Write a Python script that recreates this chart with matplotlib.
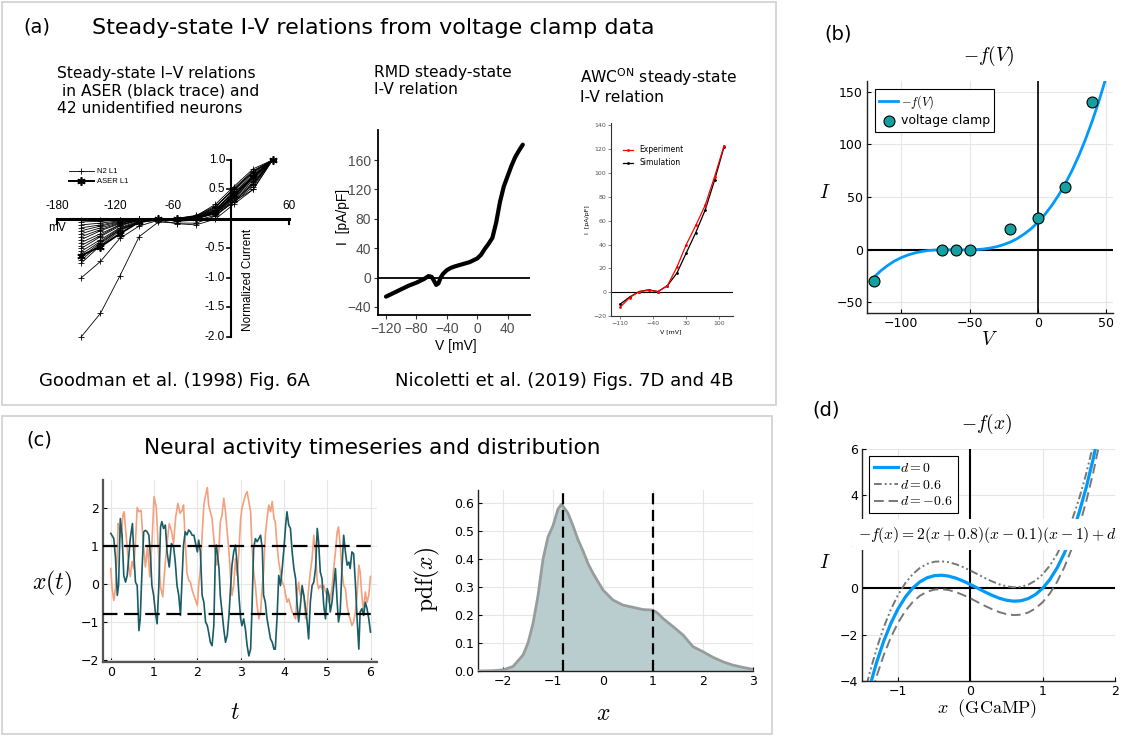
import numpy as np
import matplotlib
matplotlib.use('Agg')
import matplotlib.pyplot as plt
from matplotlib.patches import Rectangle

plt.rcParams['mathtext.fontset'] = 'cm'
plt.rcParams['font.family'] = ['DejaVu Sans']
plt.rcParams['axes.unicode_minus'] = True

# ---------------- data ----------------
# (a) Goodman et al. 1998 Fig 6A (normalized current)
goodman_V = [-155, -135, -115, -95, -75, -56, -36, -16, 3, 23, 43]
goodman_traces = [
    [-2.0, -1.6, -0.97, -0.30, -0.05, -0.07, -0.07, 0.05, 0.30, 0.50, 1.0],
    [-1.0, -0.72, -0.33, -0.12, -0.02, -0.02, 0.00, 0.10, 0.35, 0.70, 1.0],
    [-0.75, -0.45, -0.20, -0.05, 0.00, -0.02, 0.00, 0.10, 0.30, 0.60, 1.0],
    [-0.70, -0.42, -0.18, -0.04, 0.00, 0.00, 0.02, 0.15, 0.45, 0.75, 1.0],
    [-0.65, -0.40, -0.18, -0.06, -0.02, -0.08, -0.10, 0.00, 0.25, 0.50, 1.0],
    [-0.55, -0.35, -0.15, -0.03, 0.00, 0.00, 0.03, 0.20, 0.50, 0.80, 1.0],
    [-0.50, -0.30, -0.12, -0.02, 0.00, 0.01, 0.05, 0.25, 0.55, 0.85, 1.0],
    [-0.45, -0.28, -0.10, -0.02, 0.00, 0.00, 0.04, 0.18, 0.42, 0.70, 1.0],
    [-0.40, -0.25, -0.10, -0.02, 0.00, 0.00, 0.02, 0.12, 0.38, 0.65, 1.0],
    [-0.35, -0.20, -0.08, -0.01, 0.00, 0.00, 0.03, 0.15, 0.48, 0.78, 1.0],
    [-0.30, -0.18, -0.07, -0.01, 0.00, 0.01, 0.05, 0.20, 0.52, 0.82, 1.0],
    [-0.25, -0.15, -0.06, -0.01, 0.00, 0.00, 0.02, 0.10, 0.33, 0.60, 1.0],
    [-0.20, -0.12, -0.05, 0.00, 0.00, 0.00, 0.04, 0.16, 0.44, 0.72, 1.0],
    [-0.15, -0.10, -0.04, 0.00, 0.00, 0.00, 0.03, 0.14, 0.40, 0.68, 1.0],
    [-0.10, -0.07, -0.03, 0.00, 0.00, 0.01, 0.06, 0.22, 0.50, 0.80, 1.0],
    [-0.05, -0.04, -0.02, 0.00, 0.00, 0.00, 0.02, 0.08, 0.28, 0.55, 1.0],
    [-0.02, -0.02, -0.01, 0.00, 0.00, 0.00, 0.04, 0.12, 0.36, 0.62, 1.0],
    [-0.60, -0.38, -0.16, -0.05, 0.00, -0.04, -0.02, 0.06, 0.30, 0.58, 1.0],
]
aser_trace = [-0.62, -0.47, -0.25, -0.05, 0.00, 0.00, 0.02, 0.12, 0.40, 0.72, 1.0]
goodman_xticks = [-180, -120, -60, 60]
goodman_yticks = [1.0, 0.5, -0.5, -1.0, -1.5, -2.0]

# (a) RMD steady-state I-V
rmd_V = [-120, -110, -100, -90, -80, -70, -64, -60, -57, -54, -51, -48, -45, -40, -35, -30,
         -20, -10, 0, 5, 10, 15, 20, 25, 30, 35, 40, 45, 50, 55, 60]
rmd_I = [-26, -21, -16, -11, -7, -2, 2, 1, -4, -10, -8, 0, 5, 10, 13, 15,
         18, 21, 26, 31, 39, 46, 54, 75, 103, 124, 138, 152, 164, 173, 181]
rmd_xticks = [-120, -80, -40, 0, 40]
rmd_yticks = [-40, 0, 40, 80, 120, 160]

# (a) AWC-ON steady-state I-V
awc_V = [-110, -90, -70, -50, -30, -10, 10, 30, 50, 70, 90, 110]
awc_exp = [-12.5, -4.5, 0.5, 1.5, 0.5, 5.5, 21, 40, 56, 73, 97, 123]
awc_sim = [-10, -4, 0.5, 2, 0.5, 5.5, 16, 33, 50, 69, 94, 122]
awc_xticks = [-110, -40, 30, 100]
awc_yticks = [-20, 0, 20, 40, 60, 80, 100, 120, 140]

# (b) -f(V) and voltage clamp points
b_V = [-120, -115, -110, -105, -100, -95, -90, -85, -80, -75, -70, -65, -60, -55, -50, -45,
       -40, -35, -30, -25, -20, -15, -10, -5, 0, 5, 10, 15, 20, 25, 30, 35, 40, 45, 50]
b_I = [-26.0, -19.9, -14.9, -10.7, -7.4, -4.9, -3.0, -1.6, -0.7, -0.2, 0.0, 0.05, 0.0, -0.05,
       0.0, 0.2, 0.7, 1.6, 3.0, 4.9, 7.4, 10.7, 14.9, 19.9, 26.0, 33.2, 41.6, 51.3, 62.4,
       75.0, 89.1, 105.0, 122.6, 142.0, 163.4]
vc_V = [-120, -70, -60, -50, -20, 0, 20, 40]
vc_I = [-30, 0, 0, 0, 20, 30, 60, 140]
b_xticks = [-100, -50, 0, 50]
b_yticks = [-50, 0, 50, 100, 150]

# (c) timeseries
t_teal = [0.00, 0.07, 0.11, 0.15, 0.18, 0.22, 0.26, 0.30, 0.34, 0.38, 0.45, 0.50, 0.53, 0.57,
          0.61, 0.65, 0.68, 0.72, 0.76, 0.80, 0.84, 0.88, 0.92, 0.95, 0.99, 1.03, 1.07, 1.11,
          1.15, 1.18, 1.22, 1.26, 1.30, 1.35, 1.40, 1.45, 1.49, 1.53, 1.57, 1.61, 1.65, 1.68,
          1.72, 1.76, 1.80, 1.84, 1.88, 1.92, 1.96, 2.00, 2.03, 2.07, 2.11, 2.15, 2.19, 2.23,
          2.26, 2.30, 2.34, 2.38, 2.42, 2.44, 2.50, 2.53, 2.57, 2.61, 2.65, 2.69, 2.73, 2.77,
          2.80, 2.84, 2.88, 2.92, 2.96, 3.00, 3.03, 3.07, 3.11, 3.15, 3.19, 3.23, 3.26, 3.30,
          3.34, 3.38, 3.42, 3.46, 3.50, 3.53, 3.57, 3.61, 3.65, 3.69, 3.73, 3.77, 3.80, 3.84,
          3.88, 3.92, 3.96, 4.00, 4.04, 4.07, 4.11, 4.15, 4.19, 4.23, 4.27, 4.30, 4.34, 4.38,
          4.42, 4.46, 4.50, 4.53, 4.57, 4.61, 4.65, 4.69, 4.73, 4.77, 4.80, 4.84, 4.88, 4.92,
          4.96, 5.00, 5.04, 5.07, 5.11, 5.15, 5.19, 5.23, 5.26, 5.30, 5.34, 5.38, 5.42, 5.46,
          5.50, 5.53, 5.57, 5.61, 5.65, 5.69, 5.73, 5.76, 5.80, 5.84, 5.88, 5.92, 5.96, 6.00]
x_teal = [1.34, 1.20, 0.67, -0.30, -0.03, 1.73, 1.30, 0.23, 0.05, 0.23, 1.20, 1.60, 0.85, 0.05,
          -0.04, -1.23, -0.92, 0.32, 1.38, 1.42, 1.38, 1.29, 0.67, -0.04, -0.30, -0.74, -1.05, -0.04,
          1.51, 1.65, 1.47, 1.56, 0.85, 0.45, 1.07, 1.00, 0.58, -0.04, -0.30, -0.83, 0.23, 1.03,
          1.38, 1.30, 1.43, 1.38, 1.29, 1.29, 1.07, 0.85, 1.16, 0.85, -0.30, -0.48, -1.00, -1.10,
          -1.27, -1.54, -1.63, -1.10, 0.94, 1.03, 0.41, -0.30, -0.74, -1.19, -1.54, -1.36, -0.83, -0.04,
          0.50, 0.85, 1.03, 0.50, -0.30, -0.92, -1.10, -0.92, -1.19, -1.63, -1.90, -1.72, -0.74, 0.94,
          1.20, 1.12, 1.20, 1.29, 0.94, -0.30, -0.48, -0.92, -1.19, -1.45, -1.54, -1.72, -1.72, -0.92,
          0.23, -0.04, 0.41, 0.94, 1.56, 1.91, 1.56, 1.47, 0.85, 0.41, 0.14, -0.48, -1.00, -0.57,
          -0.04, -0.30, -0.65, -0.92, -1.45, -0.48, -0.04, 0.05, 0.41, 1.47, 1.12, 0.32, 0.14, -0.57,
          -0.92, -0.12, -0.30, -0.74, -0.48, -0.04, 0.41, -0.48, -1.00, -0.74, 0.41, 1.29, 0.85, 0.50,
          0.58, 0.41, 0.85, 0.80, 0.05, -0.92, -1.72, -0.74, -0.65, -0.83, -0.48, -0.65, -0.92, -1.27]
t_orange = [0.00, 0.03, 0.07, 0.11, 0.15, 0.17, 0.20, 0.24, 0.28, 0.31, 0.34, 0.38, 0.42, 0.45,
            0.49, 0.53, 0.57, 0.61, 0.65, 0.70, 0.75, 0.80, 0.85, 0.90, 0.95, 1.00, 1.05, 1.10,
            1.15, 1.20, 1.25, 1.30, 1.35, 1.40, 1.45, 1.50, 1.55, 1.60, 1.65, 1.68, 1.72, 1.76,
            1.80, 1.84, 1.88, 1.92, 1.96, 2.00, 2.03, 2.07, 2.11, 2.15, 2.19, 2.23, 2.26, 2.30,
            2.34, 2.38, 2.42, 2.45, 2.50, 2.53, 2.57, 2.61, 2.65, 2.69, 2.73, 2.77, 2.80, 2.84,
            2.88, 2.92, 2.96, 3.00, 3.03, 3.07, 3.11, 3.15, 3.19, 3.23, 3.26, 3.30, 3.34, 3.38,
            3.42, 3.46, 3.50, 3.53, 3.57, 3.61, 3.65, 3.69, 3.73, 3.77, 3.80, 3.84, 3.88, 3.92,
            3.96, 4.00, 4.04, 4.07, 4.11, 4.15, 4.19, 4.23, 4.27, 4.30, 4.34, 4.38, 4.42, 4.46,
            4.50, 4.53, 4.57, 4.61, 4.65, 4.69, 4.73, 4.77, 4.80, 4.84, 4.88, 4.92, 4.96, 5.00,
            5.04, 5.07, 5.11, 5.15, 5.19, 5.23, 5.26, 5.30, 5.34, 5.38, 5.42, 5.46, 5.50, 5.53,
            5.57, 5.61, 5.65, 5.69, 5.73, 5.76, 5.80, 5.84, 5.88, 5.92, 5.96, 6.00]
x_orange = [0.41, -0.12, -0.43, -0.10, 0.85, 1.60, 1.47, 1.25, 1.82, 1.91, 1.47, 0.94, 0.41, 0.20,
            0.60, 0.41, 1.12, 2.02, 1.91, 1.95, 1.07, 0.45, 1.00, 0.19, 1.07, 2.31, 2.04, 0.90,
            -0.08, -0.34, 0.45, 1.07, 1.60, 1.42, 1.07, 1.78, 2.13, 1.87, 1.95, 2.09, 1.12, 0.30,
            0.10, 0.05, -0.16, -0.30, -0.43, -0.57, -0.04, 0.41, 1.29, 2.09, 2.35, 2.55, 2.09, 1.91,
            1.73, 1.20, 0.76, 0.50, 0.94, 1.65, 1.82, 2.27, 1.91, 1.38, 0.85, 0.14, -0.30, -0.04,
            0.67, 0.23, 0.85, 1.73, 2.00, 2.18, 2.35, 2.44, 2.18, 1.91, 1.03, 0.32, -0.04, -0.57,
            -0.92, -0.74, -0.04, 0.32, 1.29, 1.73, 2.09, 1.91, 2.18, 1.73, 1.65, 1.03, 0.58, 0.32,
            0.05, -0.04, -0.30, -0.48, -0.39, -0.57, -0.74, -0.83, -0.92, -0.30, 0.05, -0.30, -0.21, -0.30,
            -0.92, -0.74, -0.12, 0.32, 0.67, 1.29, 0.85, 0.05, -0.12, -0.04, -0.12, -0.04, -0.21, -0.30,
            -0.48, -0.39, -0.12, 0.41, 0.85, 1.38, 1.51, 1.03, 0.32, -0.04, -0.12, -0.57, -0.83, -0.92,
            -1.10, -1.00, -0.74, -0.30, 0.50, 0.32, -0.30, -0.74, -0.21, -0.48, -0.30, 0.20]
ts_thresholds = [1.0, -0.8]
ts_xticks = [0, 1, 2, 3, 4, 5, 6]
ts_yticks = [-2, -1, 0, 1, 2]

# (c) pdf
pdf_x = [-2.5, -2.2, -2.0, -1.8, -1.6, -1.5, -1.4, -1.3, -1.2, -1.1, -1.0, -0.9, -0.83, -0.7,
         -0.6, -0.5, -0.4, -0.3, -0.2, -0.1, 0.0, 0.2, 0.4, 0.6, 0.8, 1.0, 1.1, 1.2, 1.4, 1.6,
         1.8, 2.0, 2.2, 2.4, 2.6, 2.8, 3.0]
pdf_y = [0.0, 0.001, 0.004, 0.016, 0.057, 0.10, 0.17, 0.27, 0.40, 0.48, 0.52, 0.58, 0.597, 0.565,
         0.52, 0.47, 0.43, 0.385, 0.35, 0.32, 0.29, 0.254, 0.236, 0.228, 0.22, 0.218, 0.206, 0.188,
         0.159, 0.129, 0.087, 0.069, 0.049, 0.033, 0.021, 0.013, 0.006]
pdf_xticks = [-2, -1, 0, 1, 2, 3]
pdf_yticks = [0.0, 0.1, 0.2, 0.3, 0.4, 0.5, 0.6]

# (d) -f(x) = 2(x+0.8)(x-0.1)(x-1) + d   (tabulated)
d_x = [-1.5, -1.4, -1.3, -1.2, -1.1, -1.0, -0.9, -0.8, -0.7, -0.6, -0.5, -0.4, -0.3, -0.2, -0.1,
       0.0, 0.1, 0.2, 0.3, 0.4, 0.5, 0.6, 0.7, 0.8, 0.9, 1.0, 1.1, 1.2, 1.3, 1.4, 1.5, 1.6, 1.7, 1.8]
d0_I = [-5.6, -4.32, -3.22, -2.288, -1.512, -0.88, -0.38, 0.0, 0.272, 0.448, 0.54, 0.56, 0.52,
        0.432, 0.308, 0.16, 0.0, -0.16, -0.308, -0.432, -0.52, -0.56, -0.54, -0.448, -0.272, 0.0,
        0.38, 0.88, 1.512, 2.288, 3.22, 4.32, 5.6, 7.072]
dp_I = [-5.0, -3.72, -2.62, -1.688, -0.912, -0.28, 0.22, 0.6, 0.872, 1.048, 1.14, 1.16, 1.12,
        1.032, 0.908, 0.76, 0.6, 0.44, 0.292, 0.168, 0.08, 0.04, 0.06, 0.152, 0.328, 0.6,
        0.98, 1.48, 2.112, 2.888, 3.82, 4.92, 6.2, 7.672]
dm_I = [-6.2, -4.92, -3.82, -2.888, -2.112, -1.48, -0.98, -0.6, -0.328, -0.152, -0.06, -0.04, -0.08,
        -0.168, -0.292, -0.44, -0.6, -0.76, -0.908, -1.032, -1.12, -1.16, -1.14, -1.048, -0.872, -0.6,
        -0.22, 0.28, 0.912, 1.688, 2.62, 3.72, 5.0, 6.472]
d_xticks = [-1, 0, 1, 2]
d_yticks = [-4, -2, 0, 2, 4, 6]

# ---------------- layout helpers ----------------
W, H = 1125, 736
fig = plt.figure(figsize=(W / 100, H / 100), dpi=100)
fig.patch.set_facecolor('white')


def rect(l, t, r, b):
    return [l / W, 1 - b / H, (r - l) / W, (b - t) / H]


def ftext(x, y, s, **kw):
    return fig.text(x / W, 1 - y / H, s, **kw)


def box(l, t, r, b):
    fig.add_artist(Rectangle((l / W, 1 - b / H), (r - l) / W, (b - t) / H,
                             transform=fig.transFigure, fill=False,
                             edgecolor='#cfcfcf', lw=1.2))


GRID = '#e6e6e6'


def plots_style(ax, fs=9):
    for s in ('top', 'right'):
        ax.spines[s].set_visible(False)
    for s in ('left', 'bottom'):
        ax.spines[s].set_color('#222222')
        ax.spines[s].set_linewidth(1.0)
    ax.grid(True, color=GRID, lw=0.8)
    ax.set_axisbelow(True)
    ax.tick_params(direction='in', length=3, width=0.8, labelsize=fs, colors='black', pad=3)


box(2, 2, 776, 405)
box(2, 416, 772, 734)

# ---------------- panel (a) ----------------
ftext(37, 27, '(a)', fontsize=14, ha='center', va='center')
ftext(373, 28, 'Steady-state I-V relations from voltage clamp data', fontsize=16,
      ha='center', va='center')
ftext(57, 91, 'Steady-state I\u2013V relations\n in ASER (black trace) and\n42 unidentified neurons',
      fontsize=11.2, ha='left', va='center', linespacing=1.22)
ftext(374, 81, 'RMD steady-state\nI-V relation', fontsize=11.2, ha='left', va='center',
      linespacing=1.22)
ftext(580, 77, r'AWC$^{\mathrm{ON}}$ steady-state', fontsize=11.2, ha='left', va='center',
      math_fontfamily='dejavusans')
ftext(580, 97, 'I-V relation', fontsize=11.2, ha='left', va='center')
ftext(39, 381, 'Goodman et al. (1998) Fig. 6A', fontsize=13, ha='left', va='center')
ftext(395, 381, 'Nicoletti et al. (2019) Figs. 7D and 4B', fontsize=13, ha='left', va='center')

# Goodman plot
GF = 'Liberation Sans'
axg = fig.add_axes(rect(40, 145, 300, 345))
axg.set_xlim(-197.5, 71.4)
axg.set_ylim(-2.136, 1.254)
axg.axis('off')
for tr in goodman_traces:
    axg.plot(goodman_V, tr, color='black', lw=0.6, marker='+', ms=4.5, mew=0.6)
axg.plot(goodman_V, aser_trace, color='black', lw=1.4, marker=(6, 2, 0), ms=6, mew=1.2)
axg.plot([-180, 60], [0, 0], color='black', lw=2.2)
for xv in (-180, 60):
    axg.plot([xv, xv], [0, -0.08], color='black', lw=1.5)
axg.plot([0, 0], [-2.0, 1.0], color='black', lw=1.5)
for yv in goodman_yticks:
    axg.plot([-4, 0], [yv, yv], color='black', lw=1.2)
    axg.text(-6, yv, f'{yv:.1f}', ha='right', va='center', fontsize=8.5, family=GF)
for xv in goodman_xticks:
    axg.text(xv, 0.22, str(xv), ha='center', va='center', fontsize=8.5, family=GF)
axg.text(-180, -0.16, 'mV', ha='center', va='center', fontsize=8.5, family=GF)
axg.text(17.5, -1.03, 'Normalized Current', rotation=90, ha='center', va='center',
         fontsize=8.5, family=GF)
# legend of the scanned figure
axg.plot([-168, -142], [0.81, 0.81], color='black', lw=0.6)
axg.plot([-155], [0.81], color='black', marker='+', ms=4.5, mew=0.6)
axg.plot([-168, -142], [0.64, 0.64], color='black', lw=1.4)
axg.plot([-155], [0.64], color='black', marker=(6, 2, 0), ms=6, mew=1.2)
axg.text(-139, 0.81, 'N2 L1', ha='left', va='center', fontsize=5.5, family=GF)
axg.text(-139, 0.64, 'ASER L1', ha='left', va='center', fontsize=5.5, family=GF)

# RMD plot
axr = fig.add_axes(rect(378, 130, 530, 315))
axr.plot(rmd_V, rmd_I, color='black', lw=3, solid_capstyle='round', solid_joinstyle='round')
axr.axhline(0, color='black', lw=1.3)
axr.set_xlim(-130.5, 69.5)
axr.set_ylim(-51, 201)
for s in ('top', 'right'):
    axr.spines[s].set_visible(False)
for s in ('left', 'bottom'):
    axr.spines[s].set_linewidth(1.3)
axr.set_xticks(rmd_xticks)
axr.set_yticks(rmd_yticks)
axr.tick_params(labelsize=10, labelcolor='#4d4d4d', color='#333333', length=3, width=0.8, pad=2)
for lab in axr.get_xticklabels() + axr.get_yticklabels():
    lab.set_family(GF)
ftext(456, 346, 'V [mV]', fontsize=10, family=GF, ha='center', va='center')
ftext(343, 217, 'I  [pA/pF]', fontsize=10, family=GF, ha='center', va='center', rotation=90)

# AWC plot
axw = fig.add_axes(rect(611, 123, 733, 316))
axw.axhline(0, color='black', lw=0.8)
axw.plot(awc_V, awc_sim, color='black', lw=0.9, marker='.', ms=2.0, label='Simulation')
axw.plot(awc_V, awc_exp, color='red', lw=0.9, marker='.', ms=2.0, label='Experiment')
axw.set_xlim(-129.7, 129)
axw.set_ylim(-20, 142)
for s in ('top', 'right'):
    axw.spines[s].set_visible(False)
for s in ('left', 'bottom'):
    axw.spines[s].set_linewidth(0.8)
    axw.spines[s].set_color('#333333')
axw.set_xticks(awc_xticks)
axw.set_yticks(awc_yticks)
axw.tick_params(labelsize=4.5, labelcolor='#555555', color='#555555', length=2, width=0.5, pad=1.5)
hh, ll = axw.get_legend_handles_labels()
axw.legend(hh[::-1], ll[::-1], loc='upper left', bbox_to_anchor=(0.07, 0.9), frameon=False,
           fontsize=5.5, handlelength=1.4, borderaxespad=0, labelspacing=0.5)
ftext(588, 220, 'I  [pA/pF]', fontsize=4.5, ha='center', va='center', rotation=90)
ftext(671, 332, 'V [mV]', fontsize=4.5, ha='center', va='center')

# ---------------- panel (b) ----------------
ftext(838, 34, '(b)', fontsize=14, ha='center', va='center')
axb = fig.add_axes(rect(867, 81, 1113, 313))
plots_style(axb)
axb.axhline(0, color='black', lw=1.5, zorder=1.5)
axb.axvline(0, color='black', lw=1.2, zorder=1.5)
axb.plot(b_V, b_I, color='#009AFA', lw=2, label=r'$-f(V)$', zorder=2)
axb.scatter(vc_V, vc_I, s=62, color='#14A0A0', edgecolor='black', linewidth=0.8, zorder=3,
            label='voltage clamp')
axb.set_xlim(-125.1, 55.1)
axb.set_ylim(-60, 160.2)
axb.set_xticks(b_xticks)
axb.set_yticks(b_yticks)
leg = axb.legend(loc='upper left', bbox_to_anchor=(0.033, 0.966), borderaxespad=0,
                 fontsize=9, fancybox=False, edgecolor='black', framealpha=1,
                 handlelength=1.5, handletextpad=0.2, borderpad=0.35, labelspacing=0.25)
leg.get_frame().set_linewidth(0.8)
ftext(989, 56, r'$-f(V)$', fontsize=14, ha='center', va='center')
ftext(989, 340, r'$V$', fontsize=14, ha='center', va='center')
ftext(825, 192, r'$I$', fontsize=14, ha='center', va='center')

# ---------------- panel (c) ----------------
ftext(39, 440, '(c)', fontsize=14, ha='center', va='center')
ftext(372, 448, 'Neural activity timeseries and distribution', fontsize=15.6,
      ha='center', va='center')

axt = fig.add_axes(rect(103, 480, 377, 662))
plots_style(axt, fs=9)
axt.plot(t_orange, x_orange, color='#F4A07E', lw=1.2, zorder=2)
axt.plot(t_teal, x_teal, color='#185D65', lw=1.2, zorder=3)
for yv in ts_thresholds:
    axt.axhline(yv, color='black', lw=1.6, dashes=(6.5, 3), zorder=4)
axt.set_xlim(-0.18, 6.15)
axt.set_ylim(-2.06, 2.75)
axt.set_xticks(ts_xticks)
axt.set_yticks(ts_yticks)
for s in ('left', 'bottom'):
    axt.spines[s].set_color('#555555')
    axt.spines[s].set_linewidth(1.6)
ftext(52, 583, r'$x(t)$', fontsize=17, ha='center', va='center')
ftext(235, 712, r'$t$', fontsize=17, ha='center', va='center')

axp = fig.add_axes(rect(478, 490, 753, 671))
plots_style(axp, fs=9)
axp.fill_between(pdf_x, pdf_y, 0, color='#BACDCE', lw=0, zorder=2)
axp.plot(pdf_x, pdf_y, color='#979d9d', lw=2, zorder=3)
for xv in ts_thresholds:
    axp.axvline(xv, color='black', lw=1.6, dashes=(5, 2.5), zorder=4)
axp.set_xlim(-2.5, 3.0)
axp.set_ylim(0, 0.648)
axp.set_xticks(pdf_xticks)
axp.set_yticks(pdf_yticks)
axp.set_yticklabels([f'{v:.1f}' for v in pdf_yticks])
ftext(427, 580, r'$\mathrm{pdf}(x)$', fontsize=17, ha='center', va='center', rotation=90)
ftext(603, 713, r'$x$', fontsize=17, ha='center', va='center')

# ---------------- panel (d) ----------------
ftext(826, 410, '(d)', fontsize=14, ha='center', va='center')
axd = fig.add_axes(rect(862, 449, 1115, 681))
plots_style(axd)
axd.axhline(0, color='black', lw=1.5, zorder=1.5)
axd.axvline(0, color='black', lw=1.5, zorder=1.5)
axd.plot(d_x, d0_I, color='#009AFA', lw=2.3, label=r'$d = 0$', zorder=3)
axd.plot(d_x, dp_I, color='#777777', lw=1.4, dashes=(4, 1.5, 1, 1.5, 1, 1.5),
         label=r'$d = 0.6$', zorder=2)
axd.plot(d_x, dm_I, color='#777777', lw=1.4, dashes=(5, 2.5), label=r'$d = -0.6$', zorder=2)
axd.set_xlim(-1.5, 2.0)
axd.set_ylim(-4, 6)
axd.set_xticks(d_xticks)
axd.set_yticks(d_yticks)
legd = axd.legend(loc='upper left', bbox_to_anchor=(0.028, 0.97), borderaxespad=0,
                  fontsize=10, fancybox=False, edgecolor='black', framealpha=1,
                  handlelength=1.7, handletextpad=0.2, borderpad=0.35, labelspacing=0.2)
legd.get_frame().set_linewidth(0.8)
legd.set_zorder(6)
axd.text(0.23, 2.3, r'$-f(x) = 2(x+0.8)(x-0.1)(x-1)+d$', fontsize=11.3, ha='center',
         va='center', zorder=5, clip_on=False,
         bbox=dict(facecolor='white', edgecolor='none', pad=4))
ftext(987, 424, r'$-f(x)$', fontsize=14, ha='center', va='center')
ftext(825, 563, r'$I$', fontsize=14, ha='center', va='center')
ftext(987, 709, r'$x\ \ (\mathrm{GCaMP})$', fontsize=13, ha='center', va='center')

fig.savefig('out.png', dpi=100, facecolor='white')
